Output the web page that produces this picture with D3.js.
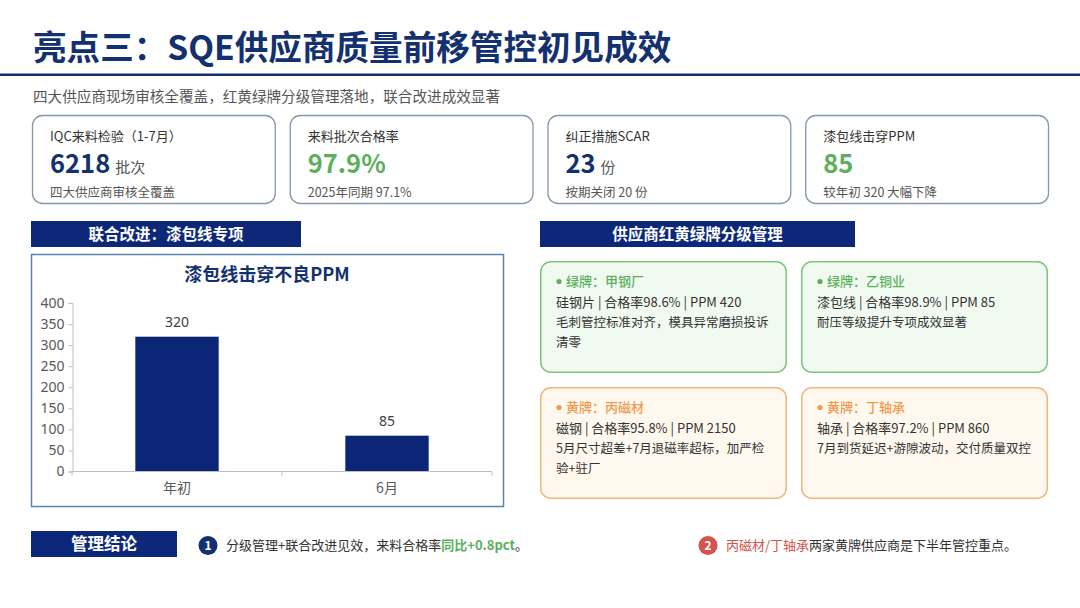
<!DOCTYPE html>
<html><head><meta charset="utf-8">
<script src="https://cdn.jsdelivr.net/npm/d3@7/dist/d3.min.js"></script>
<style>
html,body{margin:0;padding:0;background:#fff;}
svg{display:block;font-family:"Noto Sans CJK SC","Noto Sans",sans-serif;}
</style></head>
<body>
<svg id="c" width="1080" height="608"></svg>
<script>
// ---------- data ----------
const pageTitle = "亮点三：SQE供应商质量前移管控初见成效";
const pageSubtitle = "四大供应商现场审核全覆盖，红黄绿牌分级管理落地，联合改进成效显著";

const kpiLabels = ["IQC来料检验（1-7月）", "来料批次合格率", "纠正措施SCAR", "漆包线击穿PPM"];
const kpiValues = ["6218", "97.9%", "23", "85"];
const kpiUnits  = ["批次", "", "份", ""];
const kpiNotes  = ["四大供应商审核全覆盖", "2025年同期 97.1%", "按期关闭 20 份", "较年初 320 大幅下降"];
const kpiPositive = [false, true, false, true];

const leftHeader = "联合改进：漆包线专项";
const chartTitle = "漆包线击穿不良PPM";
const categories = ["年初", "6月"];
const ppmValues  = [320, 85];
const yTicks     = [0, 50, 100, 150, 200, 250, 300, 350, 400];

const rightHeader = "供应商红黄绿牌分级管理";
const supplierLevels = ["绿牌", "绿牌", "黄牌", "黄牌"];
const supplierNames  = ["甲钢厂", "乙铜业", "丙磁材", "丁轴承"];
const supplierSpecs  = ["硅钢片 | 合格率98.6% | PPM 420", "漆包线 | 合格率98.9% | PPM 85",
                        "磁钢 | 合格率95.8% | PPM 2150", "轴承 | 合格率97.2% | PPM 860"];
const supplierNotes  = ["毛刺管控标准对齐，模具异常磨损投诉清零", "耐压等级提升专项成效显著",
                        "5月尺寸超差+7月退磁率超标，加严检验+驻厂", "7月到货延迟+游隙波动，交付质量双控"];

const conclusionHeader = "管理结论";
const conclusion1 = ["分级管理+联合改进见效，来料合格率", "同比+0.8pct", "。"];
const conclusion2 = ["丙磁材/丁轴承", "两家黄牌供应商是下半年管控重点。"];

// ---------- styles ----------
const NAVY = "#13306f", BAR = "#0b2676", GREEN = "#5cb05c", ORANGE = "#f09a4e", RED = "#d4534d";
const svg = d3.select("#c");

// title
svg.append("text").attr("x", 33).attr("y", 60).attr("font-size", 33.6).attr("font-weight", 700)
  .attr("fill", NAVY).text(pageTitle);
svg.append("rect").attr("x", 0).attr("y", 73.5).attr("width", 1080).attr("height", 2.5).attr("fill", NAVY);
svg.append("text").attr("x", 33).attr("y", 102).attr("font-size", 14.6).attr("fill", "#555").text(pageSubtitle);

// KPI cards
const kpiX = d3.scaleBand().domain(d3.range(kpiLabels.length)).range([32, 1048]).paddingInner(0.058);
const kg = svg.selectAll("g.kpi").data(kpiLabels).join("g").attr("class", "kpi")
  .attr("transform", (d, i) => `translate(${kpiX(i)},115)`);
kg.append("rect").attr("x", 0.5).attr("y", 0.5).attr("width", kpiX.bandwidth()).attr("height", 88)
  .attr("rx", 10).attr("fill", "#fff").attr("stroke", "#8596b2").attr("stroke-width", 1.3);
kg.append("text").attr("x", 18).attr("y", 26).attr("font-size", 13).attr("fill", "#333").text(d => d);
kg.each(function (d, i) {
  const t = d3.select(this).append("text").attr("x", 18).attr("y", 58);
  t.append("tspan").attr("font-size", 25.5).attr("font-weight", 700)
    .attr("fill", kpiPositive[i] ? GREEN : NAVY).text(kpiValues[i]);
  if (kpiUnits[i]) t.append("tspan").attr("dx", 5).attr("font-size", 15).attr("fill", "#555").text(kpiUnits[i]);
});
kg.append("text").attr("x", 18).attr("y", 82).attr("font-size", 12.5).attr("fill", "#555").text((d, i) => kpiNotes[i]);

// section headers
function header(x, w, y, h, txt, fs) {
  svg.append("rect").attr("x", x).attr("y", y).attr("width", w).attr("height", h).attr("fill", "#0d2878");
  svg.append("text").attr("x", x + w / 2).attr("y", y + h / 2 + fs * 0.36).attr("text-anchor", "middle")
    .attr("font-size", fs).attr("font-weight", 700).attr("fill", "#fff").text(txt);
}
header(31, 270, 221, 26, leftHeader, 15.5);
header(540, 315, 221, 26, rightHeader, 15.5);

// chart box
svg.append("rect").attr("x", 31.5).attr("y", 254.5).attr("width", 472).attr("height", 252)
  .attr("fill", "#fff").attr("stroke", "#5a84a8").attr("stroke-width", 1.5);
svg.append("text").attr("x", 267).attr("y", 281).attr("text-anchor", "middle").attr("font-size", 18)
  .attr("font-weight", 700).attr("fill", NAVY).text(chartTitle);

const x = d3.scaleBand().domain(categories).range([72, 492]).paddingInner(0.603).paddingOuter(0.3015);
const xAxisScale = d3.scaleBand().domain(categories).range([72, 492]);
const y = d3.scaleLinear().domain([0, 400]).range([471.5, 303]);

const yAxis = svg.append("g").attr("transform", "translate(72.5,0)")
  .call(d3.axisLeft(y).tickValues(yTicks).tickSize(4).tickPadding(4));
yAxis.select(".domain").attr("stroke", "#bfbfbf");
yAxis.selectAll(".tick line").attr("stroke", "#bfbfbf");
yAxis.selectAll(".tick text").attr("font-size", 14).attr("fill", "#595959")
  .attr("font-family", '"Noto Sans","Noto Sans CJK SC",sans-serif');

svg.selectAll("rect.bar").data(ppmValues).join("rect").attr("class", "bar")
  .attr("x", (d, i) => x(categories[i])).attr("width", x.bandwidth())
  .attr("y", d => y(d)).attr("height", d => y(0) - y(d)).attr("fill", BAR);

const xAxis = svg.append("g").attr("transform", "translate(0,471.5)")
  .call(d3.axisBottom(xAxisScale).tickSize(0).tickPadding(12));
xAxis.select(".domain").remove();
xAxis.append("line").attr("x1", 72).attr("x2", 492).attr("stroke", "#bfbfbf");
xAxis.selectAll(".bound").data([0, 1, 2]).join("line").attr("class", "bound")
  .attr("x1", i => 72 + i * xAxisScale.step()).attr("x2", i => 72 + i * xAxisScale.step())
  .attr("y1", 0).attr("y2", 4).attr("stroke", "#bfbfbf");
xAxis.selectAll(".tick text").attr("font-size", 14).attr("fill", "#595959")
  .attr("font-family", '"Noto Sans CJK SC",sans-serif');

svg.selectAll("text.vl").data(ppmValues).join("text").attr("class", "vl")
  .attr("x", (d, i) => x(categories[i]) + x.bandwidth() / 2).attr("y", d => y(d) - 10)
  .attr("text-anchor", "middle").attr("font-size", 14).attr("fill", "#404040")
  .attr("font-family", '"Noto Sans",sans-serif').text(d => d);

// supplier cards
const sx = [540, 801], sy = [261, 387], sw = 247, sh = 112;
const sg = svg.selectAll("g.sup").data(supplierNames).join("g").attr("class", "sup")
  .attr("transform", (d, i) => `translate(${sx[i % 2]},${sy[Math.floor(i / 2)]})`);
sg.append("rect").attr("x", 0.75).attr("y", 0.75).attr("width", sw - 1.5).attr("height", sh - 1.5).attr("rx", 10)
  .attr("fill", (d, i) => supplierLevels[i] === "绿牌" ? "#f1faf1" : "#fff8ee")
  .attr("stroke", (d, i) => supplierLevels[i] === "绿牌" ? "#7cc57c" : "#f2b67c").attr("stroke-width", 1.5);
sg.append("circle").attr("cx", 19).attr("cy", 20.5).attr("r", 2.6)
  .attr("fill", (d, i) => supplierLevels[i] === "绿牌" ? GREEN : ORANGE);
sg.append("text").attr("x", 26).attr("y", 25).attr("font-size", 13).attr("font-weight", 500)
  .attr("fill", (d, i) => supplierLevels[i] === "绿牌" ? GREEN : ORANGE)
  .text((d, i) => `${supplierLevels[i]}：${d}`);
sg.append("text").attr("x", 16).attr("y", 46).attr("font-size", 13).attr("fill", "#333")
  .text((d, i) => supplierSpecs[i]);
sg.each(function (d, i) {
  const g = d3.select(this);
  const chars = Array.from(supplierNotes[i]);
  const t = g.append("text").attr("x", 16).attr("y", 66).attr("font-size", 12.5).attr("fill", "#333");
  let line = "";
  let ts = t.append("tspan").attr("x", 16).attr("dy", 0);
  for (const ch of chars) {
    ts.text(line + ch);
    if (ts.node().getComputedTextLength() > 218 && line) {
      ts.text(line);
      line = ch;
      ts = t.append("tspan").attr("x", 16).attr("dy", 20).text(line);
    } else line += ch;
  }
});

// conclusions
header(31, 146, 531, 26, conclusionHeader, 16.5);
function badge(cx, color, n) {
  svg.append("circle").attr("cx", cx).attr("cy", 545.5).attr("r", 9.5).attr("fill", color);
  svg.append("text").attr("x", cx).attr("y", 550).attr("text-anchor", "middle").attr("font-size", 12)
    .attr("font-weight", 700).attr("fill", "#fff").text(n);
}
badge(208, NAVY, "1");
badge(708, RED, "2");
const c1 = svg.append("text").attr("x", 226).attr("y", 550).attr("font-size", 13).attr("fill", "#333");
c1.append("tspan").text(conclusion1[0]);
c1.append("tspan").attr("fill", GREEN).attr("font-weight", 700).text(conclusion1[1]);
c1.append("tspan").text(conclusion1[2]);
const c2 = svg.append("text").attr("x", 726).attr("y", 550).attr("font-size", 13).attr("fill", "#333");
c2.append("tspan").attr("fill", RED).text(conclusion2[0]);
c2.append("tspan").text(conclusion2[1]);
</script>
</body></html>
